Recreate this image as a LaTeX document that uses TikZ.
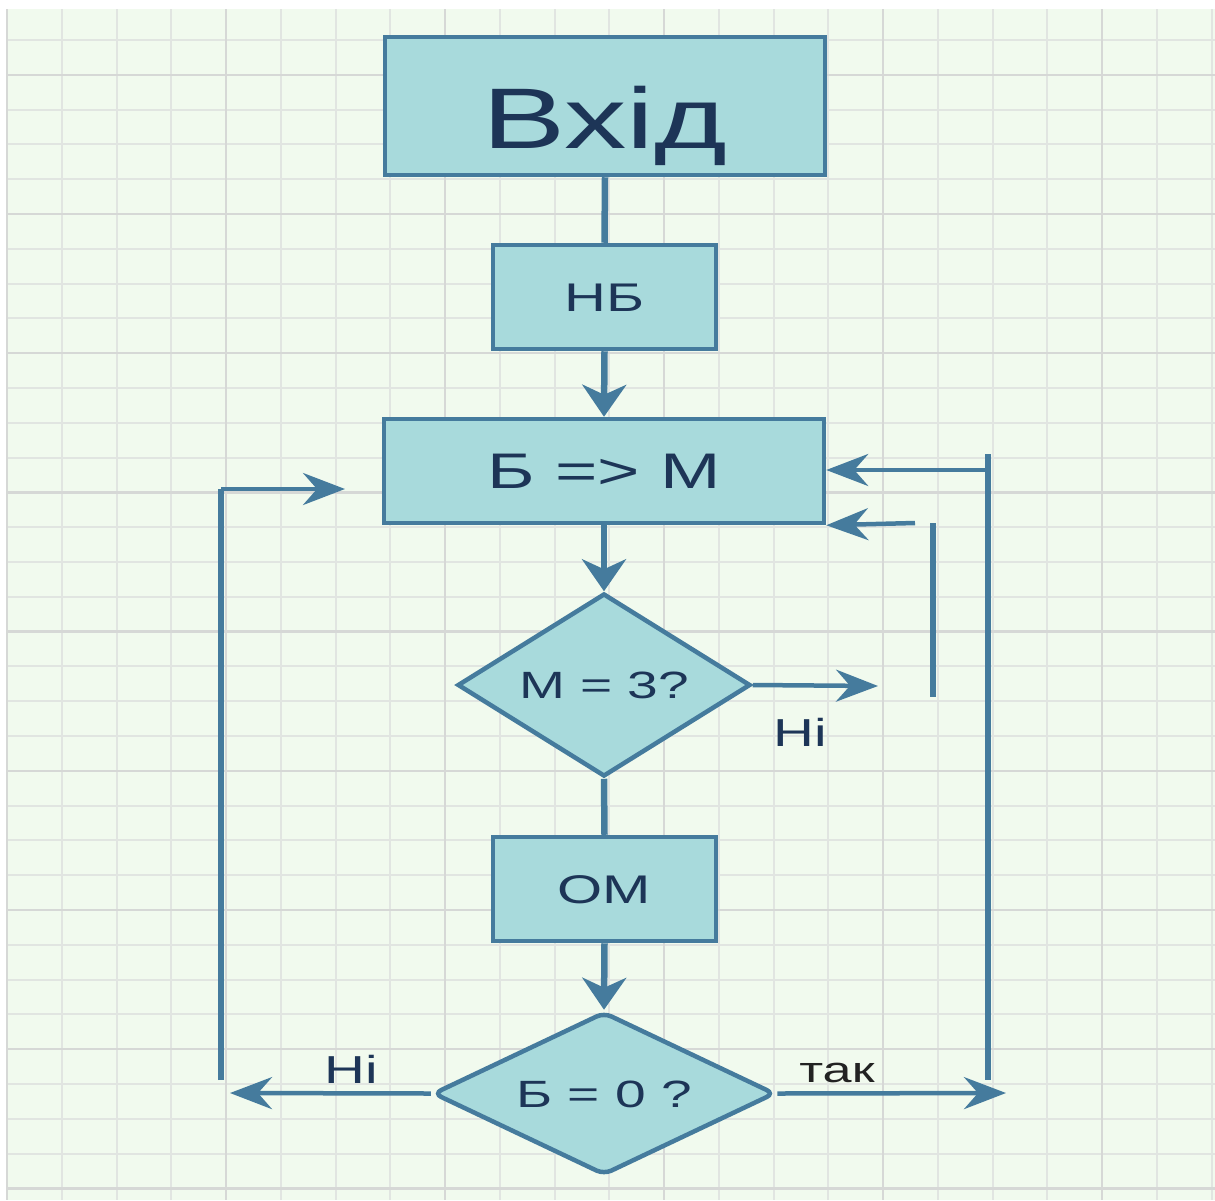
\documentclass[tikz,border=0pt]{standalone}
\usepackage{fontspec}
\setmainfont{Liberation Sans}[FakeStretch=1.45]
\usetikzlibrary{arrows.meta,shapes.geometric}
\definecolor{bgc}{HTML}{F1FAEE}
\definecolor{fillc}{HTML}{A8DADC}
\definecolor{edgec}{HTML}{457B9D}
\definecolor{txtc}{HTML}{1D3557}
\definecolor{blk}{HTML}{222222}
\definecolor{gminor}{HTML}{E1E5E1}
\definecolor{gmajor}{HTML}{D6D8D6}
\tikzset{
  box/.style={draw=edgec, fill=fillc, line width=4.5pt, rectangle, inner sep=0pt, text=txtc, text depth=0pt},
  dia/.style={draw=edgec, fill=fillc, line width=4.5pt, diamond, shape aspect=2, inner sep=0pt, text=txtc, text depth=0pt},
  hcon/.style={draw=edgec, line width=4.5pt},
  vcon/.style={draw=edgec, line width=6.5pt},
  harr/.style={hcon, -{Stealth[length=42pt,width=32pt,inset=14pt]}},
  varr/.style={vcon, -{Stealth[length=32pt,width=44pt,inset=10pt]}},
  lbl/.style={inner sep=0pt, text=txtc, font=\fontsize{39}{39}\selectfont},
  gmin/.style={draw=gminor, line width=2pt},
  gmaj/.style={draw=gmajor, line width=2.4pt}
}
\begin{document}
\begin{tikzpicture}[x=1pt,y=-1pt]
\useasboundingbox (0,0) rectangle (1215,1200);
\fill[white] (0,0) rectangle (1215,1200);
\fill[bgc] (6,9) rectangle (1215,1200);
% grid
\foreach \k in {0,...,22} {
  \pgfmathsetmacro\xx{7+54.75*\k}
  \draw[gmin] (\xx,9) -- (\xx,1200);
}
\foreach \k in {0,...,33} {
  \pgfmathsetmacro\yy{40+34.8*\k}
  \draw[gmin] (6,\yy) -- (1215,\yy);
}
\foreach \k in {0,4,...,20} {
  \pgfmathsetmacro\xx{7+54.75*\k}
  \draw[gmaj] (\xx,9) -- (\xx,1200);
}
\foreach \k in {1,5,...,33} {
  \pgfmathsetmacro\yy{40+34.8*\k}
  \draw[gmaj] (6,\yy) -- (1215,\yy);
}
% nodes
\node[box, minimum width=440pt, minimum height=138pt, text height=84pt, font=\fontsize{86}{86}\selectfont] (vhid) at (605,106) {Вхід};
\node[box, minimum width=223pt, minimum height=104pt, text height=28pt, font=\fontsize{40}{40}\selectfont] (nb) at (604.5,297) {НБ};
\node[box, minimum width=440pt, minimum height=104pt, text height=34pt, font=\fontsize{50}{50}\selectfont] (bm) at (604,471) {Б => М};
\node[dia, minimum width=293pt, minimum height=183pt, text height=26pt, font=\fontsize{38}{38}\selectfont] (d1) at (604,685) {М = 3?};
\node[box, minimum width=223pt, minimum height=104pt, text height=28pt, font=\fontsize{40}{40}\selectfont] (om) at (604.5,889) {ОМ};
\node[dia, rounded corners=8pt, minimum width=342pt, minimum height=163pt, text height=27pt, font=\fontsize{38}{38}\selectfont] (d2) at (604,1093.5) {Б = 0 ?};
% main flow
\draw[vcon] (vhid.south) -- (nb.north);
\draw[varr] (nb.south) -- (bm.north);
\draw[varr] (bm.south) -- (d1.north);
\draw[vcon] (d1.south) -- (om.north);
\draw[varr] (om.south) -- (d2.north);
% M = 3? no-branch
\coordinate (n1) at (878,686);
\draw[harr] (d1.east) -- (n1);
\node[lbl, anchor=base] (lni1) at (800,746) {Ні};
\coordinate (s1a) at (933,523);
\coordinate (s1b) at (933,697);
\draw[vcon] (s1a) -- (s1b);
\coordinate (s2) at (915,523);
\draw[harr] (s2) -- (bm.south east);
% right loop (так)
\coordinate (r1) at (988,454);
\coordinate (r2) at (988,1080);
\coordinate (r3) at (988,470);
\draw[vcon] (r1) -- (r2);
\draw[harr] (r3) -- (bm.east |- r3);
\coordinate (e1) at (1006,1093);
\draw[harr] (d2.east) -- (e1);
\node[lbl, text=blk, anchor=base, font=\fontsize{36}{36}\selectfont] (ltak) at (837,1082) {так};
% left loop (Ні)
\coordinate (w1) at (230,1093);
\draw[harr] (d2.west) -- (w1);
\node[lbl, anchor=base] (lni2) at (351,1083) {Ні};
\coordinate (l1) at (221,1080);
\coordinate (l2) at (221,489);
\coordinate (l3) at (345,489);
\draw[vcon] (l1) -- (l2);
\draw[harr] (l2) -- (l3);
\end{tikzpicture}
\end{document}
